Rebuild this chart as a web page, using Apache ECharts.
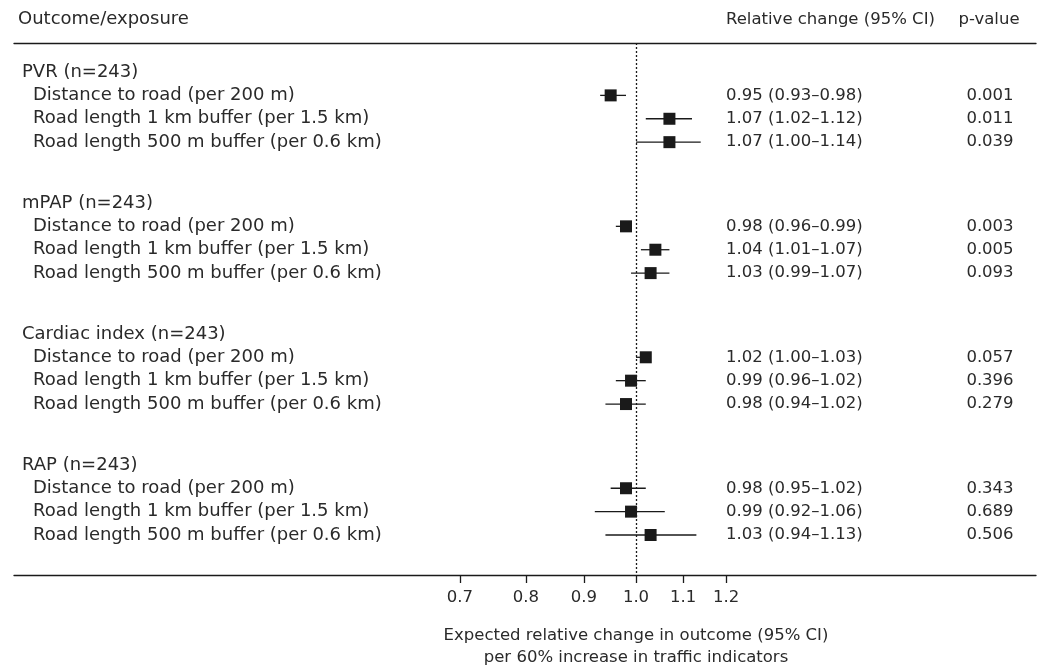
<!DOCTYPE html>
<html>
<head>
<meta charset="utf-8">
<script src="https://cdn.jsdelivr.net/npm/echarts@6/dist/echarts.min.js"></script>
<style>
  html, body { margin: 0; padding: 0; background: #fff; }
  #chart { width: 1041px; height: 671px; }
</style>
</head>
<body>
<div id="chart"></div>
<script>
// data
const groups = ['PVR (n=243)', 'mPAP (n=243)', 'Cardiac index (n=243)', 'RAP (n=243)'];
const exposures = [
  'Distance to road (per 200 m)',
  'Road length 1 km buffer (per 1.5 km)',
  'Road length 500 m buffer (per 0.6 km)'
];
const estimate = [0.95, 1.07, 1.07, 0.98, 1.04, 1.03, 1.02, 0.99, 0.98, 0.98, 0.99, 1.03];
const lower    = [0.93, 1.02, 1.00, 0.96, 1.01, 0.99, 1.00, 0.96, 0.94, 0.95, 0.92, 0.94];
const upper    = [0.98, 1.12, 1.14, 0.99, 1.07, 1.07, 1.03, 1.02, 1.02, 1.02, 1.06, 1.13];
const ciText = [
  '0.95 (0.93–0.98)', '1.07 (1.02–1.12)', '1.07 (1.00–1.14)',
  '0.98 (0.96–0.99)', '1.04 (1.01–1.07)', '1.03 (0.99–1.07)',
  '1.02 (1.00–1.03)', '0.99 (0.96–1.02)', '0.98 (0.94–1.02)',
  '0.98 (0.95–1.02)', '0.99 (0.92–1.06)', '1.03 (0.94–1.13)'
];
const pValues = ['0.001', '0.011', '0.039', '0.003', '0.005', '0.093',
                 '0.057', '0.396', '0.279', '0.343', '0.689', '0.506'];
const tickValues = [0.7, 0.8, 0.9, 1.0, 1.1, 1.2];

// layout (pixels)
const FONT = 'DejaVu Sans';
const FS = 16.5;       // numbers
const FS_TXT = 18;     // row labels
const TXT = '#2a2a2a';
const INK = '#1a1a1a';
const ZERO_PX = 636, PX_PER_LN = 494;   // log scale: 1.0 sits at x=636
const GRID_L = 14, GRID_R = 1036;
const toX = px => (px - ZERO_PX) / PX_PER_LN;
const GROUP_STEP = 5.6;                 // in row units, header + 3 rows + gap

// rows: group header then 3 exposures
let rowOf = [];
let groupRows = [];
groups.forEach((g, gi) => {
  groupRows.push(gi * GROUP_STEP);
  exposures.forEach((e, ei) => rowOf.push(gi * GROUP_STEP + ei + 1));
});

const groupLabelData = groups.map((g, i) => ({ value: [toX(22), groupRows[i]], name: g }));
const expLabelData = rowOf.map((r, i) => ({ value: [toX(33), r], name: exposures[i % 3] }));
const ciLabelData = rowOf.map((r, i) => ({ value: [toX(726), r], name: ciText[i] }));
const pLabelData = rowOf.map((r, i) => ({ value: [toX(990), r], name: pValues[i] }));

const pointData = rowOf.map((r, i) => [Math.log(estimate[i]), r]);
const ciData = rowOf.map((r, i) => [Math.log(lower[i]), Math.log(upper[i]), r]);

function textSeries(data, align, size) {
  return {
    type: 'scatter',
    data: data,
    symbolSize: 1,
    silent: true,
    itemStyle: { color: 'rgba(0,0,0,0)', opacity: 1 },
    label: {
      show: true,
      position: 'inside',
      align: align,
      verticalAlign: 'middle',
      formatter: '{b}',
      fontFamily: FONT,
      fontSize: size,
      color: TXT
    },
    emphasis: { disabled: true },
    z: 5
  };
}

const titleStyle = { fontFamily: FONT, fontSize: FS, fontWeight: 'normal', color: TXT };
const xMin = toX(GRID_L), xMax = toX(GRID_R);
const chart = echarts.init(document.getElementById('chart'));

const option = {
  animation: false,
  textStyle: { fontFamily: FONT },
  title: [
    { text: 'Outcome/exposure', left: 18, top: 10, padding: 0,
      textStyle: Object.assign({}, titleStyle, { fontSize: FS_TXT }) },
    { text: 'Relative change (95% CI)', left: 726, top: 11, padding: 0, textStyle: titleStyle },
    { text: 'p-value', left: 989, top: 11, padding: 0, textAlign: 'center', textStyle: titleStyle },
    { text: 'Expected relative change in outcome (95% CI)\nper 60% increase in traffic indicators',
      left: ZERO_PX, top: 625, padding: 0, textAlign: 'center',
      textStyle: Object.assign({}, titleStyle, { lineHeight: 22 }) }
  ],
  grid: { left: GRID_L, right: 1041 - GRID_R, top: 43, bottom: 96 },
  xAxis: [
    {
      type: 'value', min: xMin, max: xMax, position: 'bottom',
      splitLine: { show: false },
      axisLine: { show: true, onZero: false, lineStyle: { color: INK, width: 1.3 } },
      axisTick: { show: true, length: 8, customValues: tickValues.map(Math.log),
                  lineStyle: { color: INK, width: 1.3 } },
      axisLabel: { customValues: tickValues.map(Math.log), margin: 14,
                   formatter: v => Math.exp(v).toFixed(1),
                   fontFamily: FONT, fontSize: FS, color: TXT }
    },
    {
      type: 'value', min: xMin, max: xMax, position: 'top',
      splitLine: { show: false },
      axisLine: { show: true, onZero: false, lineStyle: { color: INK, width: 1.3 } },
      axisTick: { show: false },
      axisLabel: { show: false }
    }
  ],
  yAxis: {
    type: 'value', inverse: true, min: -1.24, max: 21.51,
    show: false
  },
  series: [
    {
      type: 'custom',
      data: ciData,
      silent: true,
      renderItem: function (params, api) {
        const a = api.coord([api.value(0), api.value(2)]);
        const b = api.coord([api.value(1), api.value(2)]);
        return {
          type: 'line',
          shape: { x1: a[0], y1: a[1], x2: b[0], y2: b[1] },
          style: { stroke: INK, lineWidth: 1.3 }
        };
      },
      z: 3
    },
    {
      type: 'scatter',
      data: pointData,
      symbol: 'rect',
      symbolSize: 12,
      silent: true,
      itemStyle: { color: INK, opacity: 1 },
      z: 4,
      markLine: {
        silent: true,
        symbol: 'none',
        label: { show: false },
        lineStyle: { color: INK, type: [2, 2], width: 1.3, opacity: 1 },
        data: [{ xAxis: 0 }]
      }
    },
    textSeries(groupLabelData, 'left', FS_TXT),
    textSeries(expLabelData, 'left', FS_TXT),
    textSeries(ciLabelData, 'left', FS),
    textSeries(pLabelData, 'center', FS)
  ]
};

chart.setOption(option);
</script>
</body>
</html>
